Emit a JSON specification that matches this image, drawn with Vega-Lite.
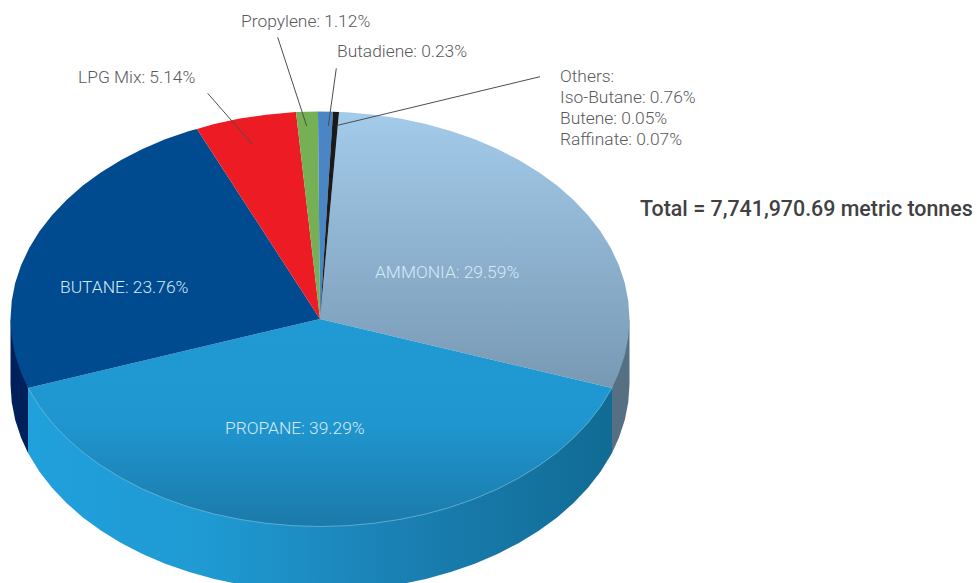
{"$schema":"https://vega.github.io/schema/vega-lite/v6.json","width":977,"height":583,"autosize":{"type":"fit","contains":"padding"},"padding":0,"background":"white","config":{"view":{"stroke":null}},
"datasets":{
"shapes":[
{"part":"wallFront","i":0,"x":612,"y":388},{"part":"wallFront","i":1,"x":28,"y":388},{"part":"wallFront","i":2,"x":28,"y":453},{"part":"wallFront","i":3,"x":39.5,"y":471.7},{"part":"wallFront","i":4,"x":52,"y":487.8},{"part":"wallFront","i":5,"x":66.5,"y":503},{"part":"wallFront","i":6,"x":82.9,"y":517.4},{"part":"wallFront","i":7,"x":101.2,"y":530.7},{"part":"wallFront","i":8,"x":121.1,"y":542.9},{"part":"wallFront","i":9,"x":142.5,"y":554},{"part":"wallFront","i":10,"x":165.2,"y":563.7},{"part":"wallFront","i":11,"x":189.2,"y":572.1},{"part":"wallFront","i":12,"x":214.2,"y":579},{"part":"wallFront","i":13,"x":239.9,"y":584.4},{"part":"wallFront","i":14,"x":266.3,"y":588.3},{"part":"wallFront","i":15,"x":293,"y":590.7},{"part":"wallFront","i":16,"x":320,"y":591.5},{"part":"wallFront","i":17,"x":347,"y":590.7},{"part":"wallFront","i":18,"x":373.7,"y":588.3},{"part":"wallFront","i":19,"x":400.1,"y":584.4},{"part":"wallFront","i":20,"x":425.8,"y":579},{"part":"wallFront","i":21,"x":450.8,"y":572.1},{"part":"wallFront","i":22,"x":474.8,"y":563.7},{"part":"wallFront","i":23,"x":497.5,"y":554},{"part":"wallFront","i":24,"x":518.9,"y":542.9},{"part":"wallFront","i":25,"x":538.8,"y":530.7},{"part":"wallFront","i":26,"x":557.1,"y":517.4},{"part":"wallFront","i":27,"x":573.5,"y":503},{"part":"wallFront","i":28,"x":588,"y":487.8},{"part":"wallFront","i":29,"x":600.5,"y":471.7},{"part":"wallFront","i":30,"x":612,"y":453},
{"part":"wallLeft","i":0,"x":10.5,"y":319},{"part":"wallLeft","i":1,"x":10.5,"y":384},{"part":"wallLeft","i":2,"x":11.7,"y":402.1},{"part":"wallLeft","i":3,"x":15.2,"y":420},{"part":"wallLeft","i":4,"x":21.1,"y":437.7},{"part":"wallLeft","i":5,"x":28,"y":453},{"part":"wallLeft","i":6,"x":28,"y":388},
{"part":"wallRight","i":0,"x":629.5,"y":319},{"part":"wallRight","i":1,"x":629.5,"y":384},{"part":"wallRight","i":2,"x":628.3,"y":402.1},{"part":"wallRight","i":3,"x":624.8,"y":420},{"part":"wallRight","i":4,"x":618.9,"y":437.7},{"part":"wallRight","i":5,"x":612,"y":453},{"part":"wallRight","i":6,"x":612,"y":388},
{"part":"Ammonia","i":0,"x":320,"y":319},{"part":"Ammonia","i":1,"x":339,"y":111.9},{"part":"Ammonia","i":2,"x":347,"y":112.3},{"part":"Ammonia","i":3,"x":373.7,"y":114.7},{"part":"Ammonia","i":4,"x":400.1,"y":118.6},{"part":"Ammonia","i":5,"x":425.8,"y":124},{"part":"Ammonia","i":6,"x":450.8,"y":130.9},{"part":"Ammonia","i":7,"x":474.8,"y":139.3},{"part":"Ammonia","i":8,"x":497.5,"y":149},{"part":"Ammonia","i":9,"x":518.9,"y":160.1},{"part":"Ammonia","i":10,"x":538.8,"y":172.3},{"part":"Ammonia","i":11,"x":557.1,"y":185.6},{"part":"Ammonia","i":12,"x":573.5,"y":200},{"part":"Ammonia","i":13,"x":588,"y":215.2},{"part":"Ammonia","i":14,"x":600.5,"y":231.3},{"part":"Ammonia","i":15,"x":610.8,"y":248},{"part":"Ammonia","i":16,"x":618.9,"y":265.3},{"part":"Ammonia","i":17,"x":624.8,"y":283},{"part":"Ammonia","i":18,"x":628.3,"y":300.9},{"part":"Ammonia","i":19,"x":629.5,"y":319},{"part":"Ammonia","i":20,"x":628.3,"y":337.1},{"part":"Ammonia","i":21,"x":624.8,"y":355},{"part":"Ammonia","i":22,"x":618.9,"y":372.7},{"part":"Ammonia","i":23,"x":612,"y":388},
{"part":"Propane","i":0,"x":320,"y":319},{"part":"Propane","i":1,"x":612,"y":388},{"part":"Propane","i":2,"x":600.5,"y":406.7},{"part":"Propane","i":3,"x":588,"y":422.8},{"part":"Propane","i":4,"x":573.5,"y":438},{"part":"Propane","i":5,"x":557.1,"y":452.4},{"part":"Propane","i":6,"x":538.8,"y":465.7},{"part":"Propane","i":7,"x":518.9,"y":477.9},{"part":"Propane","i":8,"x":497.5,"y":489},{"part":"Propane","i":9,"x":474.8,"y":498.7},{"part":"Propane","i":10,"x":450.8,"y":507.1},{"part":"Propane","i":11,"x":425.8,"y":514},{"part":"Propane","i":12,"x":400.1,"y":519.4},{"part":"Propane","i":13,"x":373.7,"y":523.3},{"part":"Propane","i":14,"x":347,"y":525.7},{"part":"Propane","i":15,"x":320,"y":526.5},{"part":"Propane","i":16,"x":293,"y":525.7},{"part":"Propane","i":17,"x":266.3,"y":523.3},{"part":"Propane","i":18,"x":239.9,"y":519.4},{"part":"Propane","i":19,"x":214.2,"y":514},{"part":"Propane","i":20,"x":189.2,"y":507.1},{"part":"Propane","i":21,"x":165.2,"y":498.7},{"part":"Propane","i":22,"x":142.5,"y":489},{"part":"Propane","i":23,"x":121.1,"y":477.9},{"part":"Propane","i":24,"x":101.2,"y":465.7},{"part":"Propane","i":25,"x":82.9,"y":452.4},{"part":"Propane","i":26,"x":66.5,"y":438},{"part":"Propane","i":27,"x":52,"y":422.8},{"part":"Propane","i":28,"x":39.5,"y":406.7},{"part":"Propane","i":29,"x":28,"y":388},
{"part":"Butane","i":0,"x":320,"y":319},{"part":"Butane","i":1,"x":28,"y":388},{"part":"Butane","i":2,"x":21.1,"y":372.7},{"part":"Butane","i":3,"x":15.2,"y":355},{"part":"Butane","i":4,"x":11.7,"y":337.1},{"part":"Butane","i":5,"x":10.5,"y":319},{"part":"Butane","i":6,"x":11.7,"y":300.9},{"part":"Butane","i":7,"x":15.2,"y":283},{"part":"Butane","i":8,"x":21.1,"y":265.3},{"part":"Butane","i":9,"x":29.2,"y":248},{"part":"Butane","i":10,"x":39.5,"y":231.3},{"part":"Butane","i":11,"x":52,"y":215.2},{"part":"Butane","i":12,"x":66.5,"y":200},{"part":"Butane","i":13,"x":82.9,"y":185.6},{"part":"Butane","i":14,"x":101.2,"y":172.3},{"part":"Butane","i":15,"x":121.1,"y":160.1},{"part":"Butane","i":16,"x":142.5,"y":149},{"part":"Butane","i":17,"x":165.2,"y":139.3},{"part":"Butane","i":18,"x":189.2,"y":130.9},{"part":"Butane","i":19,"x":197,"y":129},
{"part":"LPG Mix","i":0,"x":320,"y":319},{"part":"LPG Mix","i":1,"x":197,"y":129},{"part":"LPG Mix","i":2,"x":214.2,"y":124},{"part":"LPG Mix","i":3,"x":239.9,"y":118.6},{"part":"LPG Mix","i":4,"x":266.3,"y":114.7},{"part":"LPG Mix","i":5,"x":293,"y":112.3},{"part":"LPG Mix","i":6,"x":296,"y":112},
{"part":"Propylene","i":0,"x":320,"y":319},{"part":"Propylene","i":1,"x":296,"y":112},{"part":"Propylene","i":2,"x":318,"y":111.5},
{"part":"Butadiene","i":0,"x":320,"y":319},{"part":"Butadiene","i":1,"x":318,"y":111.5},{"part":"Butadiene","i":2,"x":333,"y":111.7},
{"part":"Others","i":0,"x":320,"y":319},{"part":"Others","i":1,"x":333,"y":111.7},{"part":"Others","i":2,"x":339,"y":111.9}
],
"leaders":[
{"name":"Propylene","i":0,"x":277.7,"y":37.3},{"name":"Propylene","i":1,"x":306.7,"y":126},
{"name":"Butadiene","i":0,"x":336.3,"y":68.3},{"name":"Butadiene","i":1,"x":328.3,"y":126},
{"name":"LPG Mix","i":0,"x":207.7,"y":93.3},{"name":"LPG Mix","i":1,"x":252.7,"y":144.7},
{"name":"Others","i":0,"x":540,"y":76.7},{"name":"Others","i":1,"x":337.7,"y":125.3}
],
"labels":[
{"label":"Propylene: 1.12%","kind":"outer","x":241,"y":27},
{"label":"Butadiene: 0.23%","kind":"outer","x":337,"y":57},
{"label":"LPG Mix: 5.14%","kind":"outer","x":78,"y":83},
{"label":"Others:","kind":"outer","x":560,"y":82},
{"label":"Iso-Butane: 0.76%","kind":"outer","x":560,"y":103},
{"label":"Butene: 0.05%","kind":"outer","x":560,"y":124},
{"label":"Raffinate: 0.07%","kind":"outer","x":560,"y":145},
{"label":"AMMONIA: 29.59%","kind":"inner","x":375,"y":278},
{"label":"BUTANE: 23.76%","kind":"inner","x":60,"y":293},
{"label":"PROPANE: 39.29%","kind":"inner","x":225,"y":434}
],
"total":[{"label":"Total = 7,741,970.69 metric tonnes","x":640,"y":216}]
},
"encoding":{
"x":{"field":"x","type":"quantitative","scale":{"domain":[0,977],"nice":false,"zero":false},"axis":null},
"y":{"field":"y","type":"quantitative","scale":{"domain":[0,583],"nice":false,"zero":false,"reverse":true},"axis":null}
},
"layer":[
{"data":{"name":"shapes"},"transform":[{"filter":"datum.part==='wallFront'"}],"mark":{"type":"line","filled":true,"clip":true,"strokeWidth":0,"fill":{"gradient":"linear","x1":0,"y1":0,"x2":1,"y2":0,"stops":[{"offset":0,"color":"#20a0dc"},{"offset":0.3,"color":"#1f9ad3"},{"offset":0.65,"color":"#1a7fb2"},{"offset":1,"color":"#116b94"}]}},"encoding":{"order":{"field":"i"}}},
{"data":{"name":"shapes"},"transform":[{"filter":"datum.part==='wallLeft'"}],"mark":{"type":"line","filled":true,"clip":true,"strokeWidth":0,"fill":"#00205c"},"encoding":{"order":{"field":"i"}}},
{"data":{"name":"shapes"},"transform":[{"filter":"datum.part==='wallRight'"}],"mark":{"type":"line","filled":true,"clip":true,"strokeWidth":0,"fill":"#566f83"},"encoding":{"order":{"field":"i"}}},
{"data":{"name":"shapes"},"transform":[{"filter":"datum.part==='Ammonia'"}],"mark":{"type":"line","filled":true,"clip":true,"strokeWidth":0,"fill":{"gradient":"linear","x1":0,"y1":0,"x2":0,"y2":1,"stops":[{"offset":0,"color":"#a3cbea"},{"offset":1,"color":"#7899b4"}]}},"encoding":{"order":{"field":"i"}}},
{"data":{"name":"shapes"},"transform":[{"filter":"datum.part==='Propane'"}],"mark":{"type":"line","filled":true,"clip":true,"strokeWidth":0,"fill":{"gradient":"linear","x1":0,"y1":0,"x2":0,"y2":1,"stops":[{"offset":0,"color":"#209ad4"},{"offset":0.5,"color":"#1f96cf"},{"offset":1,"color":"#1b7aaa"}]}},"encoding":{"order":{"field":"i"}}},
{"data":{"name":"shapes"},"transform":[{"filter":"datum.part==='Propane' && datum.i>0"}],"mark":{"type":"line","clip":true,"strokeWidth":0.7,"stroke":"#78bbdc"},"encoding":{"order":{"field":"i"}}},
{"data":{"name":"shapes"},"transform":[{"filter":"indexof(['Butane','LPG Mix','Propylene','Butadiene','Others'],datum.part)>=0"}],"mark":{"type":"line","filled":true,"clip":true,"strokeWidth":0},"encoding":{"order":{"field":"i"},"color":{"field":"part","type":"nominal","legend":null,"scale":{"domain":["Butane","LPG Mix","Propylene","Butadiene","Others"],"range":["#004a8f","#ed1c24","#76b054","#4a86c5","#1a1a1a"]}}}},
{"data":{"name":"leaders"},"mark":{"type":"line","stroke":"#4d4d4d","strokeWidth":1},"encoding":{"order":{"field":"i"},"detail":{"field":"name"}}},
{"data":{"name":"labels"},"mark":{"type":"text","align":"left","baseline":"alphabetic","font":"Roboto","fontWeight":300,"fontSize":17.4},"encoding":{"text":{"field":"label"},"color":{"field":"kind","type":"nominal","legend":null,"scale":{"domain":["outer","inner"],"range":["#58595b","#d6eaf6"]}}}},
{"data":{"name":"total"},"mark":{"type":"text","align":"left","baseline":"alphabetic","font":"Roboto","fontWeight":500,"fontSize":21.4,"color":"#414042"},"encoding":{"text":{"field":"label"}}}
],
"resolve":{"scale":{"color":"independent"}}
}
